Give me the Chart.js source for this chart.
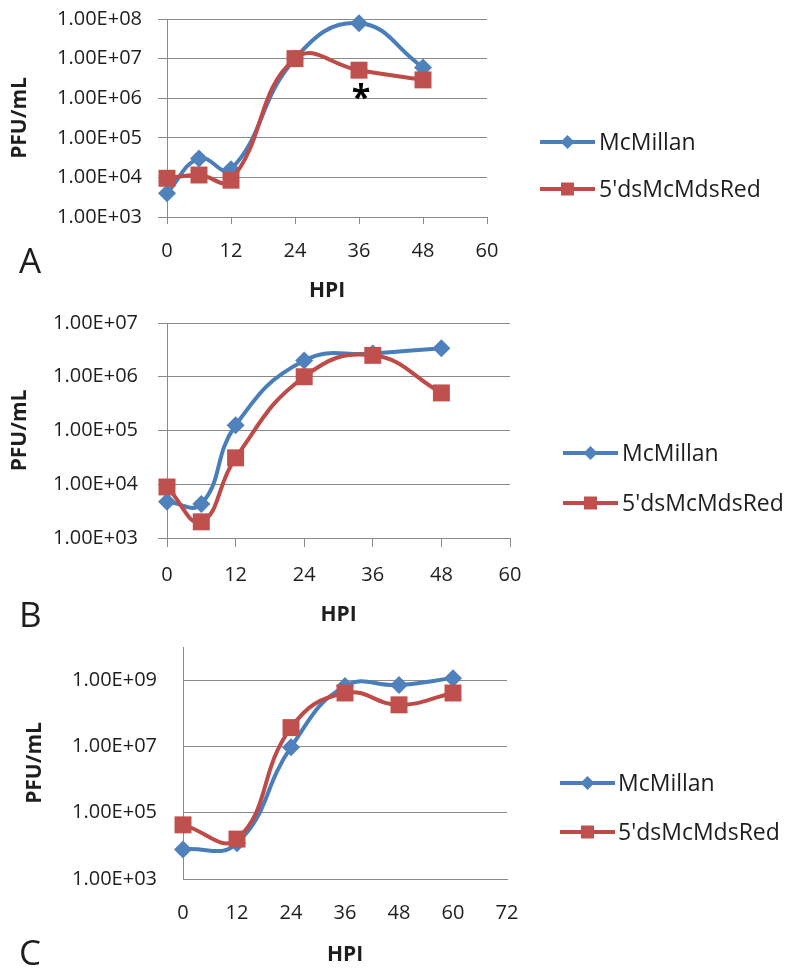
<!DOCTYPE html>
<html lang="en">
<head>
<meta charset="UTF-8">
<title>PFU/mL growth curves</title>
<script src="https://cdn.jsdelivr.net/npm/chart.js@4.4.7/dist/chart.umd.min.js"></script>
<style>
  * { margin: 0; padding: 0; box-sizing: border-box; }
  body {
    width: 792px;
    height: 968px;
    background: #fff;
    position: relative;
    overflow: hidden;
    font-family: 'Open Sans', sans-serif;
  }
  canvas { position: absolute; left: 0; }
</style>
</head>
<body>
<canvas id="chartA"></canvas>
<canvas id="chartB"></canvas>
<canvas id="chartC"></canvas>

<script>
// series names
const seriesNames = ['McMillan', "5'dsMcMdsRed"];

// panel A
const hoursA = [0, 6, 12, 24, 36, 48];
const mcmillanA = [4.0e3, 3.0e4, 1.6e4, 1.0e7, 7.8e7, 6.0e6];
const dsRedA = [9.5e3, 1.15e4, 8.5e3, 1.0e7, 5.1e6, 2.9e6];
const yTicksA = [1e3, 1e4, 1e5, 1e6, 1e7, 1e8];

// panel B
const hoursB = [0, 6, 12, 24, 36, 48];
const mcmillanB = [4.7e3, 4.3e3, 1.25e5, 2.0e6, 2.7e6, 3.4e6];
const dsRedB = [8.9e3, 2.0e3, 3.1e4, 1.0e6, 2.5e6, 5.0e5];
const yTicksB = [1e3, 1e4, 1e5, 1e6, 1e7];

// panel C
const hoursC = [0, 12, 24, 36, 48, 60];
const mcmillanC = [7.8e3, 1.2e4, 9.5e6, 6.6e8, 7.1e8, 1.15e9];
const dsRedC = [4.3e4, 1.6e4, 3.7e7, 4.1e8, 1.8e8, 4.1e8];
const yTicksC = [1e3, 1e5, 1e7, 1e9];

const BLUE = '#4A7EBB', BLUE_PT = '#4F81BD';
const RED = '#BE4B48', RED_PT = '#C0504D';
const GRID = '#8a8a8a';
const TEXT = '#1e1e1e';
const FONT = "'Open Sans', sans-serif";
const tickFont = { family: FONT, size: 20 };
const titleFont = { family: FONT, size: 21, weight: 'bold' };

// 1.00E+08 style labels
function sci(v) {
  const e = Math.floor(Math.log10(v) + 1e-9);
  const m = v / Math.pow(10, e);
  return m.toFixed(2) + 'E' + (e < 0 ? '-' : '+') + String(Math.abs(e)).padStart(2, '0');
}

function markerPath(ctx, style, x, y, r) {
  ctx.beginPath();
  if (style === 'rectRot') {
    ctx.moveTo(x, y - r);
    ctx.lineTo(x + r, y);
    ctx.lineTo(x, y + r);
    ctx.lineTo(x - r, y);
    ctx.closePath();
  } else {
    ctx.rect(x - r, y - r, r * 2, r * 2);
  }
}

// legend rows, panel letter and the significance mark
const panelDecor = {
  id: 'panelDecor',
  afterDraw(chart, args, o) {
    const ctx = chart.ctx;
    ctx.save();
    ctx.font = '23px ' + FONT;
    ctx.textBaseline = 'middle';
    chart.data.datasets.forEach((ds, i) => {
      const y = o.legendRows[i];
      ctx.strokeStyle = ds.borderColor;
      ctx.lineWidth = 4;
      ctx.beginPath();
      ctx.moveTo(o.legendX0, y);
      ctx.lineTo(o.legendX1, y);
      ctx.stroke();
      ctx.fillStyle = ds.pointBackgroundColor;
      markerPath(ctx, ds.pointStyle, (o.legendX0 + o.legendX1) / 2, y, ds.pointStyle === 'rectRot' ? 7 : 6.5);
      ctx.fill();
      ctx.fillStyle = TEXT;
      ctx.textAlign = 'left';
      ctx.fillText(ds.label, o.legendTextX, y + 1);
    });

    ctx.font = '35px ' + FONT;
    ctx.textBaseline = 'alphabetic';
    ctx.fillStyle = TEXT;
    ctx.fillText(o.letter.text, o.letter.x, o.letter.y);

    if (o.star) {
      const pt = chart.getDatasetMeta(o.star.dataset).data[o.star.index];
      ctx.font = 'bold 34px ' + FONT;
      const m = ctx.measureText('*');
      const cy = pt.y + o.star.dy;
      ctx.textAlign = 'center';
      ctx.fillStyle = '#000';
      ctx.fillText('*', pt.x + o.star.dx, cy + (m.actualBoundingBoxAscent - m.actualBoundingBoxDescent) / 2);
    }
    ctx.restore();
  }
};

function buildPanel(id, cfg) {
  const half = titleFont.size * 1.2 / 2;
  const T = cfg.top, H = cfg.height;
  const canvas = document.getElementById(id);
  canvas.style.top = T + 'px';
  canvas.width = 792;
  canvas.height = H;

  const padLeft = cfg.yTitleX - half;
  const padBottom = (T + H) - (cfg.xTitleY + half);
  const yWidth = cfg.plot.left - padLeft;
  const xHeight = (cfg.xTitleY + half) - cfg.plot.bottom;
  const local = y => y - T;

  const toPts = (xs, ys) => xs.map((x, i) => ({ x: x, y: ys[i] }));

  new Chart(canvas, {
    type: 'line',
    data: {
      datasets: [
        {
          label: seriesNames[0],
          data: toPts(cfg.hours, cfg.blue),
          borderColor: BLUE,
          borderWidth: 4,
          pointStyle: 'rectRot',
          pointRadius: 9,
          pointBackgroundColor: BLUE_PT,
          pointBorderColor: BLUE_PT,
          pointBorderWidth: 0,
          tension: 0.45,
          clip: false,
          order: 1
        },
        {
          label: seriesNames[1],
          data: toPts(cfg.hours, cfg.red),
          borderColor: RED,
          borderWidth: 4,
          pointStyle: 'rect',
          pointRadius: 12,
          pointBackgroundColor: RED_PT,
          pointBorderColor: RED_PT,
          pointBorderWidth: 0,
          tension: 0.45,
          clip: false,
          order: 0
        }
      ]
    },
    options: {
      responsive: false,
      animation: false,
      events: [],
      layout: {
        padding: {
          top: cfg.plot.top - T,
          left: padLeft,
          right: 792 - cfg.plot.right,
          bottom: padBottom
        }
      },
      plugins: {
        legend: { display: false },
        tooltip: { enabled: false },
        panelDecor: {
          legendRows: cfg.legend.rows.map(local),
          legendX0: cfg.legend.x0,
          legendX1: cfg.legend.x1,
          legendTextX: cfg.legend.textX,
          letter: { text: cfg.letter.text, x: cfg.letter.x, y: local(cfg.letter.y) },
          star: cfg.star || null
        }
      },
      scales: {
        x: {
          type: 'linear',
          min: 0,
          max: cfg.xMax,
          ticks: { stepSize: 12, padding: cfg.xTickPad, font: tickFont, color: TEXT, maxRotation: 0, autoSkip: false },
          grid: { drawOnChartArea: false, drawTicks: cfg.tickLen > 0, tickLength: cfg.xTickLen, color: GRID, lineWidth: 1 },
          border: { color: GRID, width: 1 },
          title: { display: true, text: 'HPI', font: titleFont, color: TEXT, padding: 0 },
          afterFit(s) { s.height = xHeight; s.paddingLeft = 0; s.paddingRight = 0; }
        },
        y: {
          type: 'logarithmic',
          min: cfg.yMin,
          max: cfg.yMax,
          afterBuildTicks(s) { s.ticks = cfg.yTicks.map(v => ({ value: v })); },
          ticks: { callback: v => sci(v), padding: cfg.yTickPad, font: tickFont, color: TEXT },
          grid: { color: GRID, lineWidth: 1, drawTicks: cfg.tickLen > 0, tickLength: cfg.tickLen },
          border: { color: GRID, width: 1 },
          title: { display: true, text: 'PFU/mL', font: titleFont, color: TEXT, padding: 0 },
          afterFit(s) { s.width = yWidth; s.paddingTop = 0; s.paddingBottom = 0; }
        }
      }
    },
    plugins: [panelDecor]
  });
}

buildPanel('chartA', {
  top: 0, height: 310,
  hours: hoursA, blue: mcmillanA, red: dsRedA,
  yTicks: yTicksA, yMin: 1e3, yMax: 1e8, xMax: 60,
  plot: { left: 167, right: 487, top: 19, bottom: 217 },
  yTitleX: 20, xTitleY: 291.5,
  tickLen: 9, xTickLen: 7, yTickPad: 16, xTickPad: 15,
  legend: { rows: [142, 189], x0: 540, x1: 595, textX: 599 },
  letter: { text: 'A', x: 19, y: 273 },
  star: { dataset: 1, index: 4, dx: 2, dy: 21 }
});

buildPanel('chartB', {
  top: 300, height: 335,
  hours: hoursB, blue: mcmillanB, red: dsRedB,
  yTicks: yTicksB, yMin: 1e3, yMax: 1e7, xMax: 60,
  plot: { left: 167, right: 510, top: 323, bottom: 538 },
  yTitleX: 20, xTitleY: 615,
  tickLen: 9, xTickLen: 9, yTickPad: 20, xTickPad: 16,
  legend: { rows: [453, 503], x0: 563, x1: 618, textX: 622 },
  letter: { text: 'B', x: 19, y: 627 }
});

buildPanel('chartC', {
  top: 635, height: 333,
  hours: hoursC, blue: mcmillanC, red: dsRedC,
  yTicks: yTicksC, yMin: 1e3, yMax: 1e10, xMax: 72,
  plot: { left: 183, right: 507, top: 645, bottom: 879 },
  yTitleX: 35, xTitleY: 955,
  tickLen: 0, xTickLen: 0, yTickPad: 26, xTickPad: 22,
  legend: { rows: [783, 832], x0: 560, x1: 615, textX: 618 },
  letter: { text: 'C', x: 19, y: 965 }
});
</script>
</body>
</html>
